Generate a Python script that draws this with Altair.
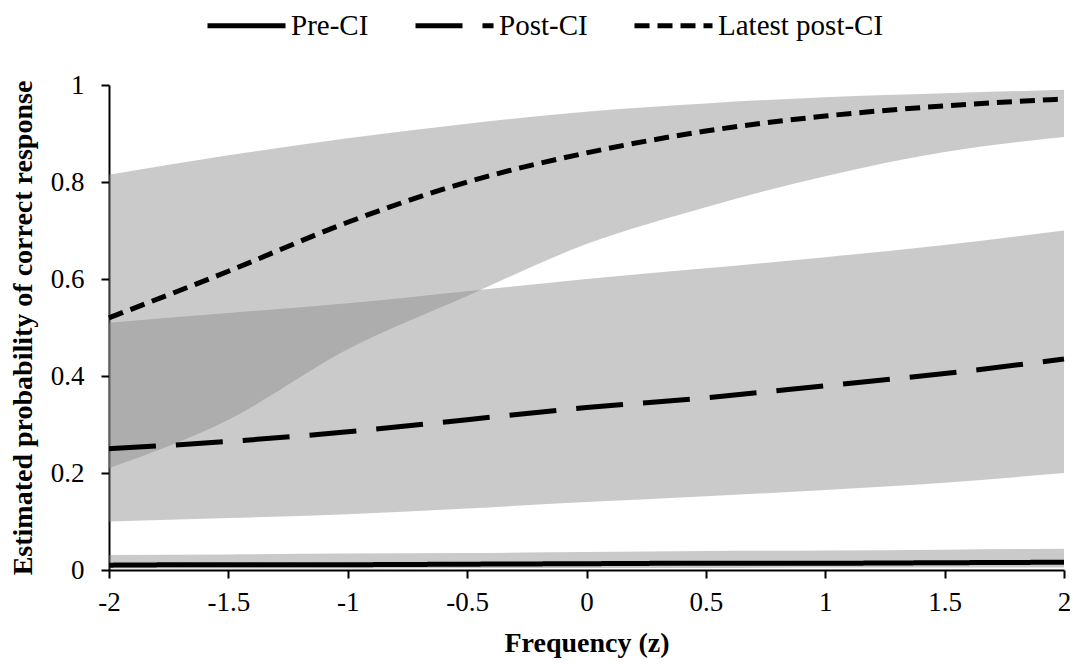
import altair as alt
import pandas as pd

# Data
x_vals = [-2, -1.5, -1, -0.5, 0, 0.5, 1, 1.5, 2]

series_names = ["Pre-CI", "Post-CI", "Latest post-CI"]

pre_est = [0.010, 0.011, 0.011, 0.012, 0.013, 0.014, 0.014, 0.015, 0.016]
pre_lo = [0.003, 0.003, 0.003, 0.004, 0.004, 0.004, 0.005, 0.005, 0.005]
pre_hi = [0.031, 0.032, 0.034, 0.035, 0.037, 0.039, 0.040, 0.042, 0.044]

post_est = [0.250, 0.265, 0.285, 0.310, 0.335, 0.355, 0.380, 0.405, 0.435]
post_lo = [0.100, 0.107, 0.115, 0.127, 0.140, 0.152, 0.165, 0.180, 0.200]
post_hi = [0.510, 0.530, 0.550, 0.575, 0.600, 0.622, 0.645, 0.670, 0.700]

latest_est = [0.520, 0.616, 0.717, 0.800, 0.860, 0.905, 0.936, 0.957, 0.971]
latest_lo = [0.210, 0.310, 0.455, 0.565, 0.672, 0.748, 0.812, 0.862, 0.893]
latest_hi = [0.815, 0.855, 0.890, 0.920, 0.945, 0.962, 0.975, 0.983, 0.990]

x_ticks = [-2, -1.5, -1, -0.5, 0, 0.5, 1, 1.5, 2]
y_ticks = [0, 0.2, 0.4, 0.6, 0.8, 1]

rows = []
for name, est, lo, hi in [
    ("Pre-CI", pre_est, pre_lo, pre_hi),
    ("Post-CI", post_est, post_lo, post_hi),
    ("Latest post-CI", latest_est, latest_lo, latest_hi),
]:
    for xv, e, l, h in zip(x_vals, est, lo, hi):
        rows.append({"series": name, "x": xv, "est": e, "lo": l, "hi": h})
df = pd.DataFrame(rows)

FONT = "Liberation Serif"

x_enc = alt.X(
    "x:Q",
    scale=alt.Scale(domain=[-2, 2], nice=False, zero=False),
    axis=alt.Axis(
        title="Frequency (z)",
        values=x_ticks,
        labelExpr="datum.value + ''",
        labelFlush=False,
        labelBound=False,
        grid=False,
    ),
)

y_scale = alt.Scale(domain=[0, 1], nice=False)

bands = (
    alt.Chart(df)
    .mark_area(color="#8a8a8a", opacity=0.45, interpolate="monotone")
    .encode(
        x=x_enc,
        y=alt.Y(
            "lo:Q",
            scale=y_scale,
            axis=alt.Axis(
                title="Estimated probability of correct response",
                values=y_ticks,
                labelExpr="datum.value + ''",
                labelFlush=False,
                grid=False,
            ),
        ),
        y2="hi:Q",
        detail="series:N",
    )
)

lines = (
    alt.Chart(df)
    .mark_line(color="black", strokeWidth=5, interpolate="monotone", strokeCap="butt")
    .encode(
        x=x_enc,
        y=alt.Y("est:Q", scale=y_scale),
        strokeDash=alt.StrokeDash(
            "series:N",
            scale=alt.Scale(
                domain=series_names,
                range=[[1, 0], [47, 20], [15, 8]],
            ),
            legend=alt.Legend(
                title=None,
                orient="none",
                legendX=96,
                legendY=-101,
                direction="horizontal",
                symbolType="stroke",
                symbolSize=6084,
                symbolStrokeWidth=5,
                symbolStrokeColor="black",
                labelFont=FONT,
                labelFontSize=29,
                labelColor="black",
                labelOffset=3,
                labelLimit=400,
                columnPadding=36,
                padding=0,
            ),
        ),
    )
)

chart = (
    alt.layer(bands, lines)
    .properties(
        width=955,
        height=485,
        autosize=alt.AutoSizeParams(type="none"),
        padding={"left": 101, "top": 77, "right": 6, "bottom": 95},
    )
    .configure_view(stroke=None)
    .configure_axis(
        domainColor="black",
        domainWidth=2,
        tickColor="black",
        tickWidth=2,
        tickSize=8,
        labelFont=FONT,
        labelFontSize=27,
        labelColor="black",
        titleFont=FONT,
        titleFontSize=28,
        titleFontWeight="bold",
        titleColor="black",
    )
    .configure_axisX(labelPadding=11, titlePadding=14)
    .configure_axisY(labelPadding=17, titlePadding=13)
)

chart.save("out.html", embed_options={"renderer": "svg", "actions": False})
